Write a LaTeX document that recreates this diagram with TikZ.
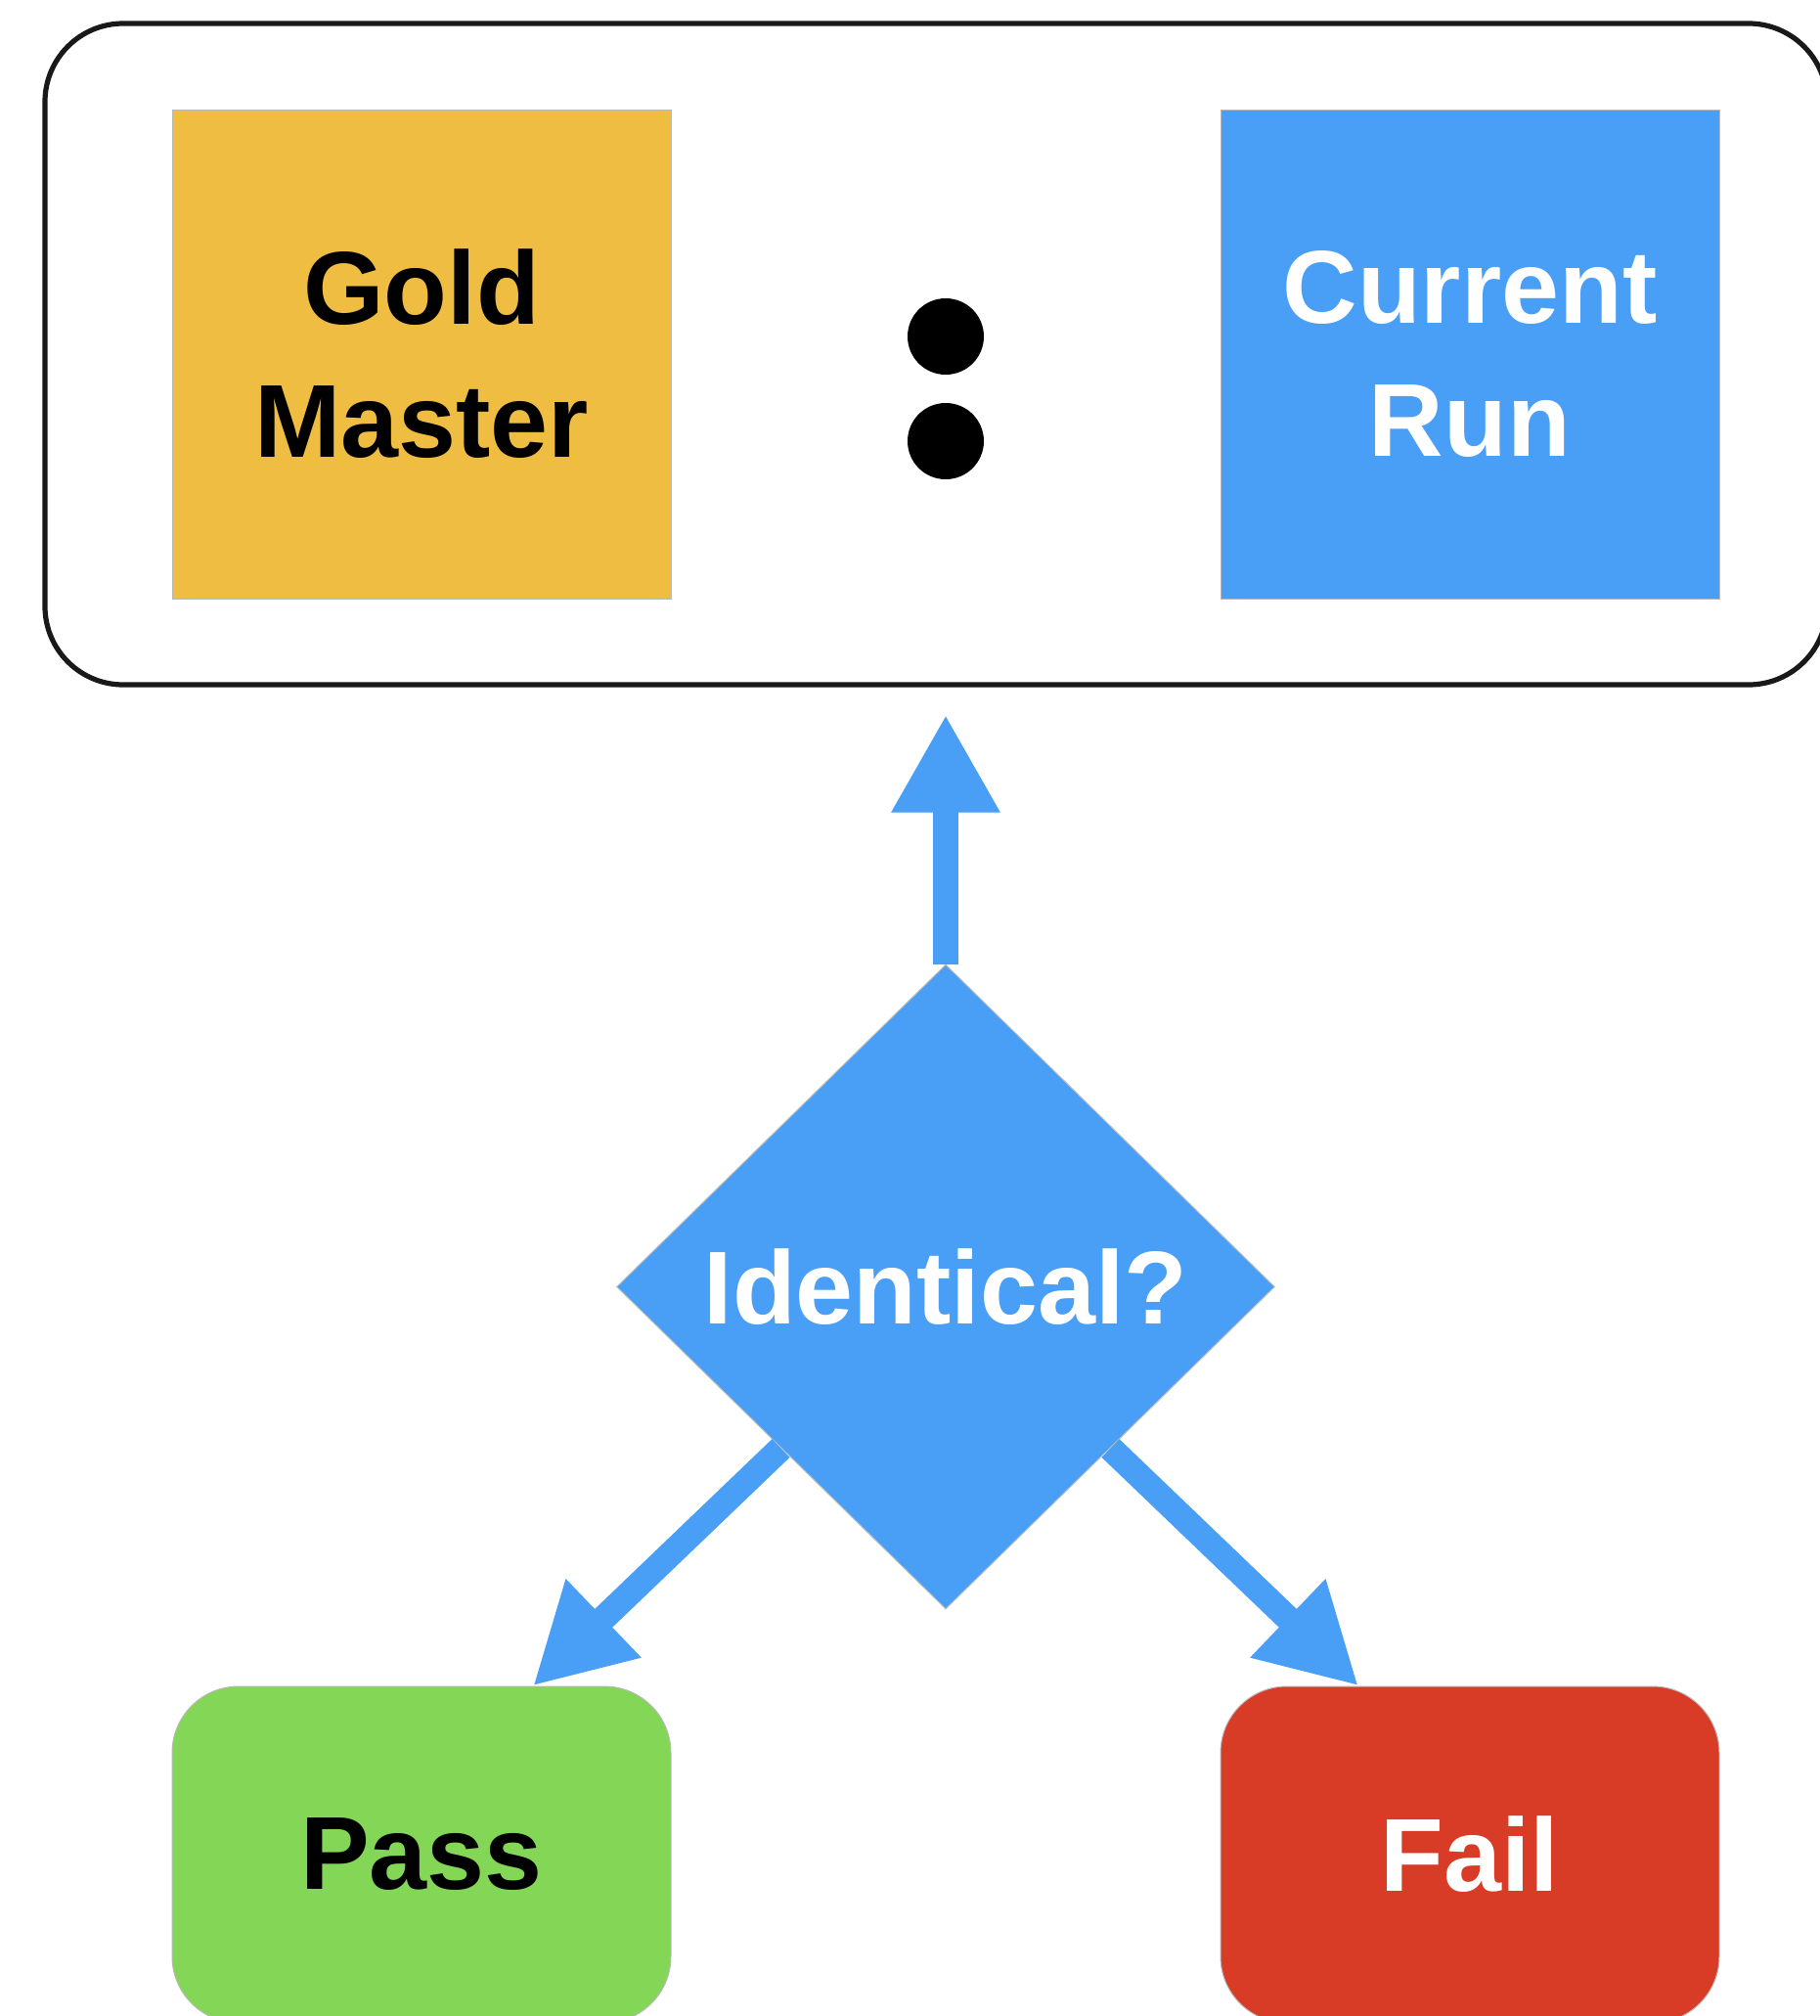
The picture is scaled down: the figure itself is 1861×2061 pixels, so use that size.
\documentclass[tikz,border=0pt]{standalone}
\usepackage{fontspec}
\setmainfont{Liberation Sans}
\usetikzlibrary{shapes.geometric,arrows.meta}

\definecolor{goldfill}{RGB}{238,189,66}
\definecolor{runblue}{RGB}{73,158,245}
\definecolor{passgreen}{RGB}{132,214,86}
\definecolor{failred}{RGB}{216,59,38}

\tikzset{
  label font/.style={font=\fontsize{53}{68}\selectfont\bfseries, align=center},
  squarebox/.style={label font, rectangle, draw=gray!55, line width=0.5pt,
    minimum width=255pt, minimum height=250pt, inner sep=0pt},
  resultbox/.style={label font, rectangle, rounded corners=34pt, draw=gray!55,
    line width=0.5pt, minimum width=255pt, minimum height=172pt, inner sep=0pt},
  decision/.style={label font, diamond, aspect=1, fill=runblue, draw=gray!50,
    line width=0.5pt, text=white, minimum width=336.5pt, minimum height=329.5pt,
    inner sep=0pt},
  colondot/.style={circle, fill=black, minimum size=39pt, inner sep=0pt},
  flow/.style={draw=runblue, line width=13pt,
    -{Triangle[width=52pt,length=50pt]}},
}

\begin{document}
\begin{tikzpicture}[x=0.5pt,y=-0.5pt]
  \clip (0,0) rectangle (1861,2061);

  % comparison frame
  \node (frame) [draw=black!90, line width=2.6pt, rounded corners=40pt,
    minimum width=911pt, minimum height=338pt, inner sep=0pt] at (957,362) {};

  \node (gold) [squarebox, fill=goldfill, text=black] at (431,362) {Gold\\Master};
  \node (run) [squarebox, fill=runblue, text=white] at (1503,362) {Current\\Run};
  \node (dotA) [colondot] at (967,344) {};
  \node (dotB) [colondot] at (967,451) {};

  % decision
  \node (check) [decision] at (967,1315.5) {Identical?};

  % outcomes
  \node (pass) [resultbox, fill=passgreen, text=black] at (431,1896) {Pass};
  \node (fail) [resultbox, fill=failred, text=white] at (1503,1896) {Fail};

  % connectors
  \draw[flow, shorten >=14pt] (check.north) -- (check.north |- frame.south);
  \draw[flow] (check.south west) -- ([xshift=57pt]pass.north);
  \draw[flow] (check.south east) -- ([xshift=-57pt]fail.north);
\end{tikzpicture}
\end{document}
